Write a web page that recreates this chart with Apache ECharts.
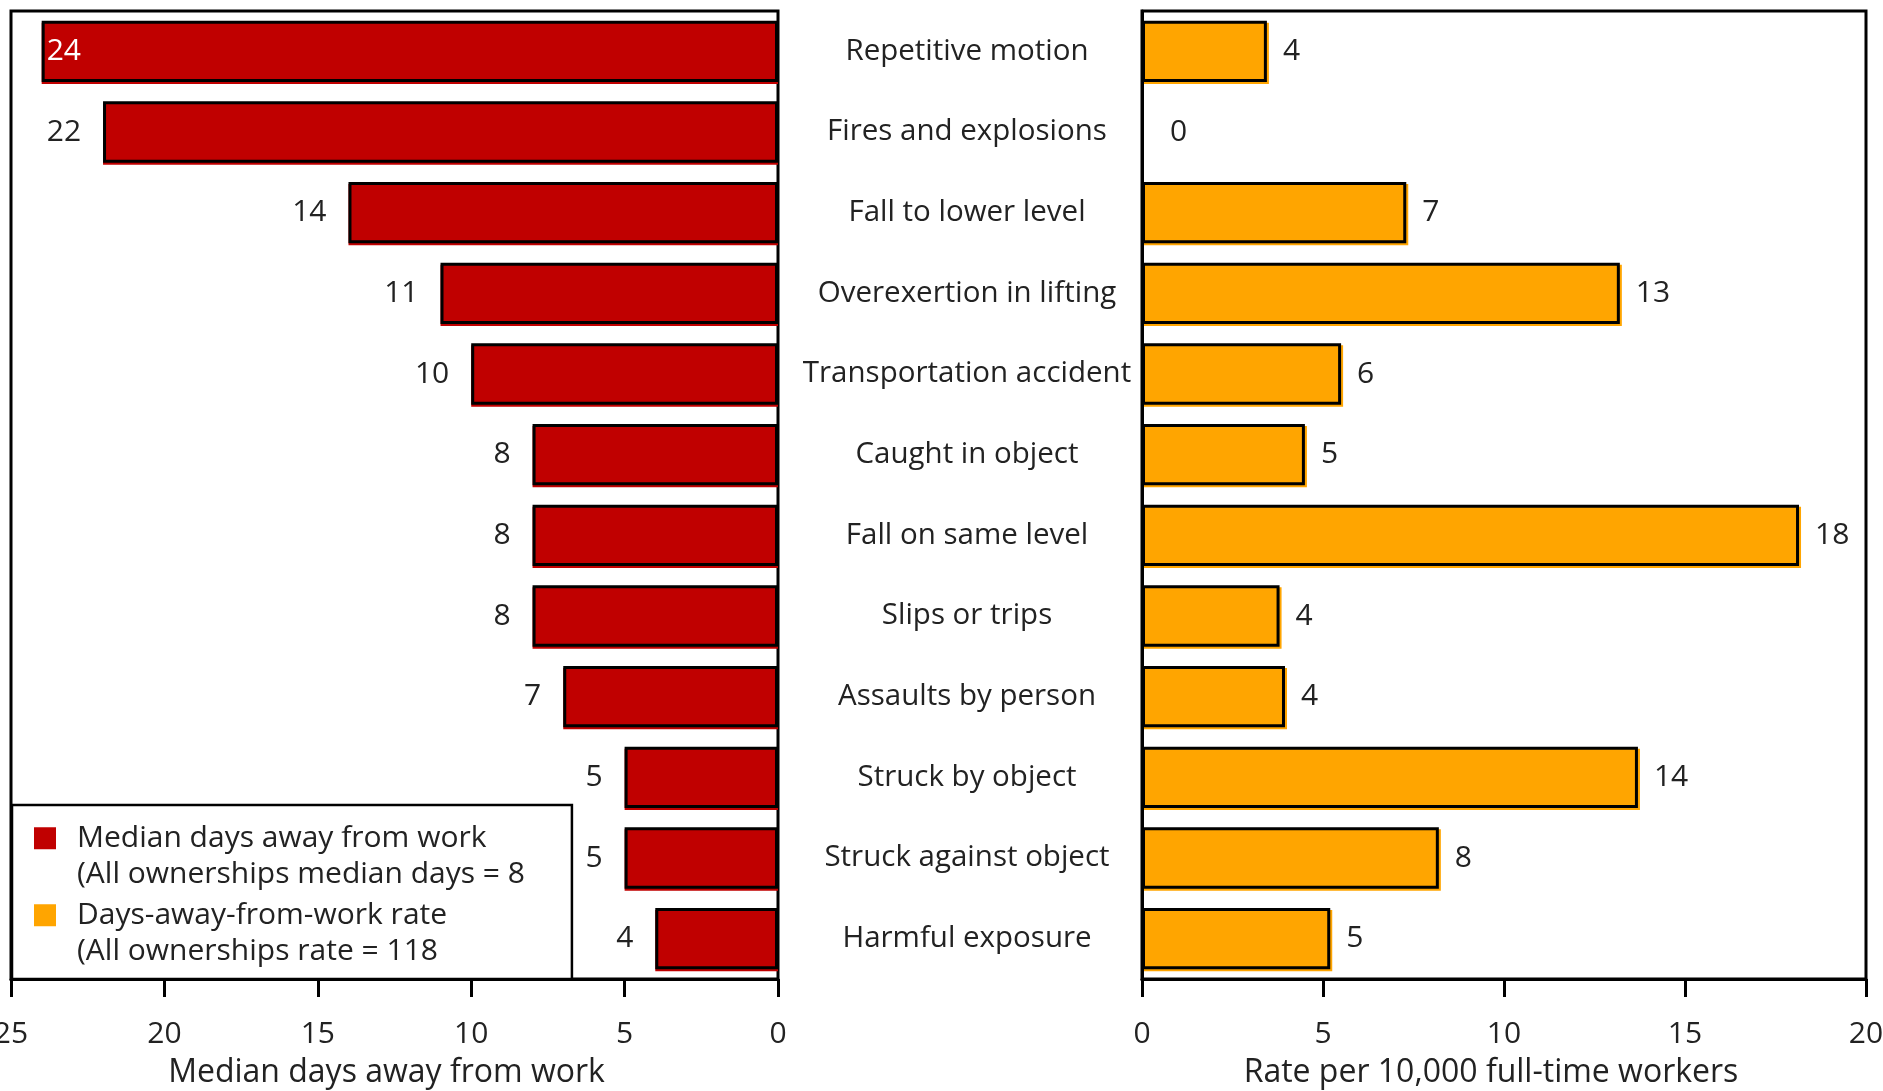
<!DOCTYPE html>
<html>
<head>
<meta charset="utf-8">
<title>Median days away from work and rate by event</title>
<script src="https://cdn.jsdelivr.net/npm/echarts@6/dist/echarts.min.js"></script>
<style>
  html, body { margin: 0; padding: 0; background: #fff; }
  #main { width: 1883px; height: 1091px; }
</style>
</head>
<body>
<div id="main"></div>
<script>
// categories, top to bottom
var categories = [
  'Repetitive motion', 'Fires and explosions', 'Fall to lower level',
  'Overexertion in lifting', 'Transportation accident', 'Caught in object',
  'Fall on same level', 'Slips or trips', 'Assaults by person',
  'Struck by object', 'Struck against object', 'Harmful exposure'
];
// median days away from work (left panel)
var medianDays = [24, 22, 14, 11, 10, 8, 8, 8, 7, 5, 5, 4];
// rate per 10,000 workers (right panel), bar length as read and printed label
var rateValues = [3.45, 0, 7.3, 13.2, 5.5, 4.5, 18.15, 3.8, 3.95, 13.7, 8.2, 5.2];
var rateLabels = [4, 0, 7, 13, 6, 5, 18, 4, 4, 14, 8, 5];

var seriesNames = ['Median days away from work', 'Days-away-from-work rate'];
var legendNotes = ['(All ownerships median days = 8', '(All ownerships rate = 118'];

var font = '"Open Sans", "Noto Sans", sans-serif';
var ink = '#222';
var red = '#C00000';
var orange = '#FFA500';

var myChart = echarts.init(document.getElementById('main'));

// left bars: the longest one keeps its number inside
var leftData = medianDays.map(function (v, i) {
  if (i === 0) {
    return { value: v, label: { position: 'insideLeft', distance: 5, color: '#fff' } };
  }
  return v;
});
// right bars: zero row has no outline, its label sits a bit further out
var rightData = rateValues.map(function (v, i) {
  if (v === 0) {
    return {
      value: v,
      itemStyle: { borderWidth: 0, shadowColor: 'rgba(0,0,0,0)', color: 'rgba(0,0,0,0)' },
      label: { distance: 28 }
    };
  }
  return v;
});

function valueAxis(idx, max, inverse, name, namePad) {
  return {
    gridIndex: idx,
    type: 'value',
    inverse: inverse,
    min: 0,
    max: max,
    interval: 5,
    splitLine: { show: false },
    axisLine: { show: true, onZero: false, lineStyle: { color: '#000', width: 3 } },
    axisTick: { show: true, length: 18, lineStyle: { color: '#000', width: 3 } },
    axisLabel: { margin: 40, fontSize: 30, color: ink, fontFamily: font },
    name: name,
    nameLocation: 'middle',
    nameGap: 78,
    nameTextStyle: { fontSize: 32, color: ink, fontFamily: font, padding: namePad }
  };
}

var option = {
  animation: false,
  backgroundColor: '#fff',
  textStyle: { fontFamily: font },
  grid: [
    { left: 11, right: 1105, top: 11, bottom: 112, outerBoundsMode: 'none', containLabel: false,
      show: true, borderColor: '#000', borderWidth: 3 },
    { left: 1142, right: 17, top: 11, bottom: 112, outerBoundsMode: 'none', containLabel: false,
      show: true, borderColor: '#000', borderWidth: 3 }
  ],
  xAxis: [
    valueAxis(0, 25, true, 'Median days away from work', [0, 16, 0, 0]),
    valueAxis(1, 20, false, 'Rate per 10,000 full-time workers', [0, 26, 0, 0])
  ],
  yAxis: [
    {
      gridIndex: 0, type: 'category', inverse: true, data: categories,
      axisLine: { show: false }, axisTick: { show: false }, axisLabel: { show: false }
    },
    {
      gridIndex: 1, type: 'category', inverse: true, data: categories,
      axisLine: { show: true, onZero: false, lineStyle: { color: '#000', width: 3 } },
      axisTick: { show: false },
      axisLabel: { margin: 175, align: 'center', fontSize: 29.5, color: ink, fontFamily: font }
    }
  ],
  legend: {
    orient: 'vertical',
    left: 12,
    top: 805,
    padding: [15, 47, 9, 22],
    itemGap: 4,
    itemWidth: 38,
    itemHeight: 73,
    // square sits level with the first text line
    icon: 'path://M0,0 M38,73 M0,7.25 L22,7.25 L22,29.25 L0,29.25 Z',
    selectedMode: false,
    backgroundColor: '#fff',
    borderColor: '#000',
    borderWidth: 2.5,
    itemStyle: { borderWidth: 0, shadowBlur: 0, shadowOffsetX: 0, shadowOffsetY: 0, shadowColor: 'rgba(0,0,0,0)' },
    textStyle: { fontSize: 30, lineHeight: 36.5, color: ink, fontFamily: font },
    formatter: function (name) {
      return name + '\n' + legendNotes[seriesNames.indexOf(name)];
    },
    data: seriesNames
  },
  series: [
    {
      name: seriesNames[0],
      type: 'bar',
      xAxisIndex: 0,
      yAxisIndex: 0,
      barWidth: '76%',
      data: leftData,
      itemStyle: {
        color: red, borderColor: '#000', borderWidth: 3,
        shadowColor: red, shadowOffsetY: 2, shadowBlur: 0
      },
      label: {
        show: true, position: 'left', distance: 22,
        fontSize: 30, color: ink, fontFamily: font
      }
    },
    {
      name: seriesNames[1],
      type: 'bar',
      xAxisIndex: 1,
      yAxisIndex: 1,
      barWidth: '76%',
      data: rightData,
      itemStyle: {
        color: orange, borderColor: '#000', borderWidth: 3,
        shadowColor: orange, shadowOffsetX: 2, shadowOffsetY: 2, shadowBlur: 0
      },
      label: {
        show: true, position: 'right', distance: 16,
        fontSize: 30, color: ink, fontFamily: font,
        formatter: function (p) { return rateLabels[p.dataIndex]; }
      }
    }
  ]
};

option && myChart.setOption(option);
</script>
</body>
</html>
